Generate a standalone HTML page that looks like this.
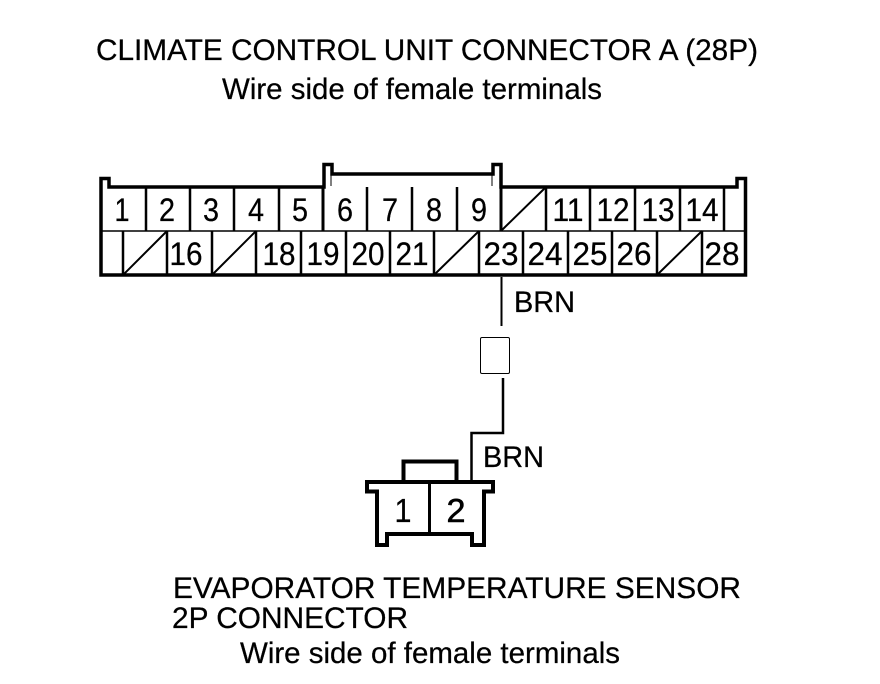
<!DOCTYPE html>
<html>
<head>
<meta charset="utf-8">
<style>
html,body{margin:0;padding:0;background:#fff;width:880px;height:684px;overflow:hidden}
svg{display:block}
text{font-family:"Liberation Sans",Arial,sans-serif;fill:#000;stroke:#000;stroke-width:.25px}
.t{font-size:30px}
.n{font-size:32px;text-anchor:middle}
</style>
</head>
<body>
<svg width="880" height="684" viewBox="0 0 880 684" xmlns="http://www.w3.org/2000/svg">
<text class="t" x="96" y="60" textLength="662" lengthAdjust="spacingAndGlyphs">CLIMATE CONTROL UNIT CONNECTOR A (28P)</text>
<text class="t" x="222" y="99" textLength="380" lengthAdjust="spacingAndGlyphs">Wire side of female terminals</text>

<g fill="none" stroke="#000" stroke-width="3">
<path d="M101 275V178.500H109V187H324V164.500H332V174H493V164.500H501V187H737V178.500H745.500V275Z" stroke-width="3.500"/>
<path d="M146 187V231M190 187V231M234 187V231M279 187V231M367 187V231M412 187V231M457 187V231M546 187V231M590 187V231M635 187V231M680 187V231M724 187V231" stroke-width="2.500"/>
<path d="M323 187V231M501 187V231" stroke-width="3"/>
<path d="M102 231H745" stroke-width="1.500"/>
<path d="M123 231V275M167 231V275M212 231V275M256 231V275M301 231V275M346 231V275M390 231V275M434 231V275M479 231V275M523 231V275M568 231V275M612 231V275M657 231V275M702 231V275" stroke-width="2.500"/>
<path d="M331 174V186M492 174V186" stroke-width="1"/>
<path d="M124 274L167 231M213 274L256 231M435 274L479 231M502 230L546 187M658 274L702 231" stroke-width="2"/>
</g>

<g class="numbers">
<text class="n" x="122" y="221" textLength="15" lengthAdjust="spacingAndGlyphs">1</text>
<text class="n" x="167" y="221" textLength="16" lengthAdjust="spacingAndGlyphs">2</text>
<text class="n" x="211" y="221" textLength="16" lengthAdjust="spacingAndGlyphs">3</text>
<text class="n" x="256" y="221" textLength="16" lengthAdjust="spacingAndGlyphs">4</text>
<text class="n" x="300" y="221" textLength="16" lengthAdjust="spacingAndGlyphs">5</text>
<text class="n" x="345" y="221" textLength="16" lengthAdjust="spacingAndGlyphs">6</text>
<text class="n" x="390" y="221" textLength="16" lengthAdjust="spacingAndGlyphs">7</text>
<text class="n" x="434" y="221" textLength="16" lengthAdjust="spacingAndGlyphs">8</text>
<text class="n" x="479" y="221" textLength="16" lengthAdjust="spacingAndGlyphs">9</text>
<text class="n" x="568" y="221" textLength="31" lengthAdjust="spacingAndGlyphs">11</text>
<text class="n" x="613" y="221" textLength="33" lengthAdjust="spacingAndGlyphs">12</text>
<text class="n" x="658" y="221" textLength="33" lengthAdjust="spacingAndGlyphs">13</text>
<text class="n" x="702" y="221" textLength="33" lengthAdjust="spacingAndGlyphs">14</text>
<text class="n" x="186" y="265" textLength="33" lengthAdjust="spacingAndGlyphs">16</text>
<text class="n" x="279" y="265" textLength="33" lengthAdjust="spacingAndGlyphs">18</text>
<text class="n" x="323" y="265" textLength="33" lengthAdjust="spacingAndGlyphs">19</text>
<text class="n" x="368" y="265" textLength="33" lengthAdjust="spacingAndGlyphs">20</text>
<text class="n" x="412" y="265" textLength="33" lengthAdjust="spacingAndGlyphs">21</text>
<text class="n" x="501" y="265" textLength="35" lengthAdjust="spacingAndGlyphs">23</text>
<text class="n" x="545" y="265" textLength="35" lengthAdjust="spacingAndGlyphs">24</text>
<text class="n" x="590" y="265" textLength="35" lengthAdjust="spacingAndGlyphs">25</text>
<text class="n" x="634" y="265" textLength="35" lengthAdjust="spacingAndGlyphs">26</text>
<text class="n" x="722" y="265" textLength="35" lengthAdjust="spacingAndGlyphs">28</text>
</g>

<path d="M501.500 277V326" fill="none" stroke="#000" stroke-width="2"/>
<text x="514" y="312" font-size="30" textLength="61" lengthAdjust="spacingAndGlyphs">BRN</text>
<rect x="480.500" y="337.500" width="29" height="36" rx="1.500" fill="#fff" stroke="#000" stroke-width="1"/>
<path d="M503 378V433H471.500V482" fill="none" stroke="#000" stroke-width="2.500"/>
<text x="483" y="467" font-size="30" textLength="61" lengthAdjust="spacingAndGlyphs">BRN</text>

<g fill="none" stroke="#000" stroke-width="4">
<path d="M403.500 481V461.500H456.500V481"/>
<path d="M367 482H493V491.500H484V545H472V534H387V545H377V491.500H367Z"/>
<path d="M429.500 482V533" stroke-width="3"/>
</g>
<text class="n" x="403" y="522" style="font-size:33px" textLength="17" lengthAdjust="spacingAndGlyphs">1</text>
<text class="n" x="456" y="522" style="font-size:33px;stroke-width:.6px" textLength="19" lengthAdjust="spacingAndGlyphs">2</text>

<text class="t" x="173" y="598" textLength="568" lengthAdjust="spacingAndGlyphs">EVAPORATOR TEMPERATURE SENSOR</text>
<text class="t" x="172" y="628" textLength="236" lengthAdjust="spacingAndGlyphs">2P CONNECTOR</text>
<text class="t" x="240" y="663" textLength="380" lengthAdjust="spacingAndGlyphs">Wire side of female terminals</text>
</svg>
</body>
</html>
